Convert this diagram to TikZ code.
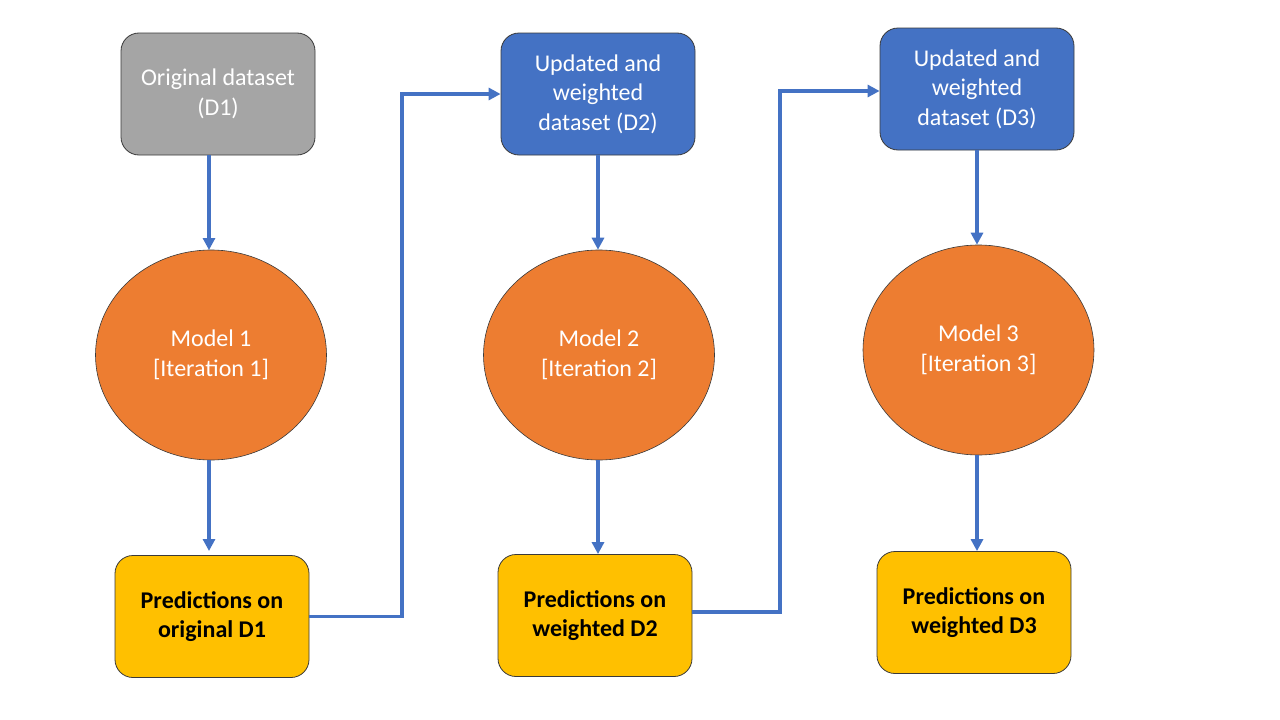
\documentclass[tikz,border=0pt]{standalone}
\usepackage{fontspec}
\setmainfont{Carlito}
\usetikzlibrary{shapes.geometric,arrows.meta}
\definecolor{dgray}{HTML}{A5A5A5}
\definecolor{dblue}{HTML}{4472C4}
\definecolor{dorange}{HTML}{ED7D31}
\definecolor{dyellow}{HTML}{FFC000}
\definecolor{edgec}{HTML}{3A3A3A}
\tikzset{
  box/.style={rectangle, rounded corners=18pt, draw=edgec, line width=0.8pt,
    minimum width=194pt, minimum height=122pt, inner sep=0pt, align=center,
    font=\fontsize{24}{29.5}\selectfont},
  graybox/.style={box, fill=dgray, text=white},
  bluebox/.style={box, fill=dblue, text=white},
  predbox/.style={box, fill=dyellow, text=black, font=\fontsize{24}{29.5}\selectfont\bfseries},
  model/.style={ellipse, draw=edgec, line width=0.6pt, fill=dorange, text=white,
    minimum width=231pt, minimum height=210pt, inner sep=0pt, align=center,
    font=\fontsize{24}{29.5}\selectfont},
  arr/.style={draw=dblue, line width=3.3pt, -{Triangle[length=12pt,width=12pt]}},
}
\begin{document}
\begin{tikzpicture}[x=1pt,y=-1pt]
\useasboundingbox (0,0) rectangle (1280,720);
\fill[white] (0,0) rectangle (1280,720);
% column 1
\node[graybox] (b1) at (218,94) {Original dataset\\(D1)};
\node[model] (e1) at (211,355) {Model 1\\{[}Iteration 1{]}};
\node[predbox] (y1) at (212,616.5) {Predictions on\\original D1};
% column 2
\node[bluebox] (b2) at (598,94) {Updated and\\weighted\\dataset (D2)};
\node[model] (e2) at (599,355) {Model 2\\{[}Iteration 2{]}};
\node[predbox] (y2) at (595,615.5) {Predictions on\\weighted D2};
% column 3
\node[bluebox] (b3) at (977,89) {Updated and\\weighted\\dataset (D3)};
\node[model] (e3) at (978.5,350) {Model 3\\{[}Iteration 3{]}};
\node[predbox] (y3) at (974,612.5) {Predictions on\\weighted D3};
% vertical arrows
\draw[arr] (b1.south -| 209,0) -- (209,250);
\draw[arr] (e1.south -| 209,0) -- (209,551);
\draw[arr] (b2.south) -- (b2.south |- e2.north);
\draw[arr] (e2.south -| b2.south) -- (b2.south |- y2.north) ;
\draw[arr] (b3.south) -- (b3.south |- e3.north);
\draw[arr] (e3.south -| b3.south) -- (b3.south |- y3.north);
% elbow connectors
\coordinate (k1) at (402,616.5);
\coordinate (k2) at (780,612);
\draw[arr] (y1.east) -- (k1) |- (b2.west);
\draw[arr] (y2.east |- k2) -- (k2) |- (b3.west |- 0,91);
\end{tikzpicture}
\end{document}
